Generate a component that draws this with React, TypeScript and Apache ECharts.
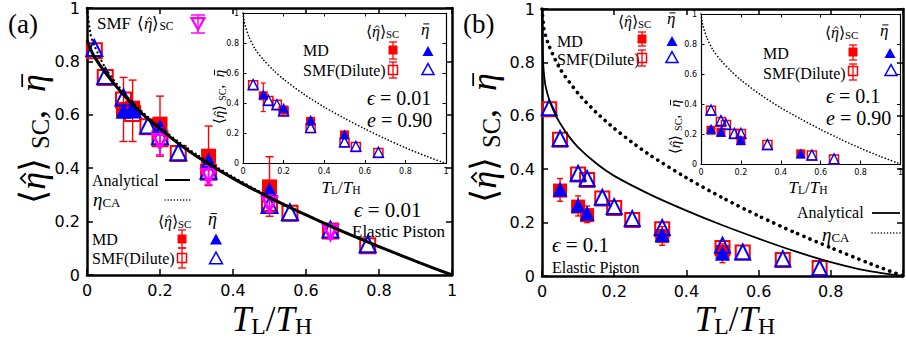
import React, { useEffect, useRef } from 'react';
import * as echarts from 'echarts';

// ---------- Panel (a) main: epsilon = 0.01 ----------
const aSmfX = [0.02, 0.05, 0.1, 0.125, 0.167, 0.2, 0.25, 0.333, 0.5, 0.556, 0.667, 0.769];
const aSmfSC = [0.84, 0.74, 0.655, 0.605, 0.555, 0.51, 0.455, 0.385, 0.268, 0.231, 0.165, 0.11];
const aSmfBar = [0.85, 0.745, 0.665, 0.62, 0.56, 0.52, 0.46, 0.39, 0.262, 0.235, 0.17, 0.115];
const aMdX = [0.1, 0.125, 0.2, 0.333, 0.5];
const aMdSC = [0.62, 0.625, 0.565, 0.445, 0.33];
const aMdBar = [0.615, 0.62, 0.555, 0.43, 0.318];
const aMdLo = [0.5, 0.5, 0.445, 0.335, 0.22];
const aMdHi = [0.74, 0.73, 0.67, 0.558, 0.443];
const aMagX = [0.2, 0.333, 0.5, 0.667];
const aMag = [0.5, 0.37, 0.265, 0.16];
const aMagLo = [0.45, 0.34, 0.235, 0.135];
const aMagHi = [0.55, 0.41, 0.3, 0.19];
const aCurveX = [0, 0.01, 0.02, 0.05, 0.1, 0.15, 0.2, 0.25, 0.3, 0.4, 0.5, 0.6, 0.7, 0.8, 0.9, 1.0];
const aAnalytic = [0.88, 0.845, 0.818, 0.758, 0.675, 0.605, 0.547, 0.493, 0.445, 0.362, 0.29, 0.225, 0.163, 0.106, 0.052, 0];
const aCA = [1.0, 0.9, 0.86, 0.776, 0.684, 0.613, 0.553, 0.5, 0.452, 0.368, 0.293, 0.225, 0.163, 0.106, 0.051, 0];

// ---------- Panel (a) inset: epsilon = 0.01, e = 0.90 ----------
const aiSmfX = [0.05, 0.125, 0.167, 0.2, 0.333, 0.5, 0.556, 0.667];
const aiSmfSC = [0.52, 0.415, 0.39, 0.345, 0.235, 0.14, 0.11, 0.07];
const aiSmfBar = [0.525, 0.42, 0.39, 0.35, 0.24, 0.145, 0.115, 0.075];
const aiMdX = [0.1, 0.2, 0.333, 0.5];
const aiMdSC = [0.45, 0.355, 0.28, 0.19];
const aiMdBar = [0.46, 0.37, 0.29, 0.195];
const aiMdLo = [0.345, 0.33, 0.26, 0.175];
const aiMdHi = [0.535, 0.38, 0.3, 0.21];

// ---------- Panel (b) main: epsilon = 0.1 ----------
const bSmfX = [0.02, 0.05, 0.1, 0.125, 0.167, 0.2, 0.25, 0.333, 0.5, 0.556, 0.667, 0.769];
const bSmfSC = [0.625, 0.51, 0.38, 0.36, 0.29, 0.255, 0.21, 0.175, 0.105, 0.088, 0.06, 0.03];
const bSmfBar = [0.63, 0.515, 0.385, 0.365, 0.295, 0.26, 0.215, 0.182, 0.115, 0.09, 0.065, 0.03];
const bMdX = [0.05, 0.1, 0.125, 0.333, 0.5];
const bMdSC = [0.32, 0.26, 0.228, 0.15, 0.09];
const bMdBar = [0.325, 0.265, 0.235, 0.155, 0.085];
const bMdLo = [0.28, 0.225, 0.2, 0.115, 0.05];
const bMdHi = [0.365, 0.3, 0.262, 0.185, 0.12];
const bCurveX = [0, 0.001, 0.003, 0.006, 0.01, 0.02, 0.035, 0.05, 0.075, 0.1, 0.15, 0.2, 0.3, 0.4, 0.5, 0.6, 0.7, 0.8, 0.9, 1.0];
const bAnalytic = [1.0, 0.88, 0.8, 0.75, 0.71, 0.66, 0.61, 0.572, 0.522, 0.482, 0.422, 0.375, 0.305, 0.245, 0.19, 0.14, 0.093, 0.052, 0.02, 0];
const bCAX = [0, 0.005, 0.01, 0.02, 0.05, 0.1, 0.15, 0.2, 0.25, 0.3, 0.4, 0.5, 0.6, 0.7, 0.8, 0.9, 1.0];
const bCA = [1.0, 0.93, 0.9, 0.86, 0.776, 0.684, 0.613, 0.553, 0.5, 0.452, 0.368, 0.293, 0.225, 0.163, 0.106, 0.051, 0];

// ---------- Panel (b) inset: epsilon = 0.1, e = 0.90 ----------
const biSmfX = [0.05, 0.1, 0.125, 0.167, 0.2, 0.333, 0.556, 0.667];
const biSmfSC = [0.355, 0.28, 0.26, 0.2, 0.2, 0.127, 0.056, 0.03];
const biSmfBar = [0.36, 0.29, 0.265, 0.205, 0.205, 0.13, 0.06, 0.035];
const biMdX = [0.05, 0.1, 0.2, 0.5];
const biMdSC = [0.225, 0.21, 0.155, 0.068];
const biMdBar = [0.235, 0.215, 0.16, 0.07];
const biMdLo = [0.205, 0.19, 0.135, 0.055];
const biMdHi = [0.245, 0.23, 0.175, 0.08];

// inset dotted reference curve (both insets)
const inCurveX = [0, 0.005, 0.01, 0.03, 0.06, 0.1, 0.15, 0.2, 0.3, 0.4, 0.5, 0.6, 0.7, 0.8, 0.9, 1.0];
const inCurve = [1.0, 0.95, 0.92, 0.84, 0.76, 0.69, 0.62, 0.56, 0.46, 0.375, 0.3, 0.23, 0.165, 0.105, 0.05, 0];

const RED = '#ff0000';
const BLUE = '#0000ff';
const MAG = '#ff00ff';
const SERIF = "'Liberation Serif', 'Times New Roman', serif";
const SANS = "'DejaVu Sans', 'Liberation Sans', sans-serif";

const zip = (xs: number[], ys: number[]) => xs.map((x, i) => [x, ys[i]]);
const zip3 = (xs: number[], a: number[], b: number[]) => xs.map((x, i) => [x, a[i], b[i]]);

let measureCtx: CanvasRenderingContext2D | null = null;
function measure(text: string, font: string) {
  if (!measureCtx) measureCtx = document.createElement('canvas').getContext('2d');
  if (!measureCtx) return text.length * 8;
  measureCtx.font = font;
  return measureCtx.measureText(text).width;
}

// Math-like label composed of pieces: [kind, text, accent?]; kind r=roman, i=italic, s=subscript
type Part = [string, string, string?];
function M(x: number, y: number, parts: Part[], size: number, align = 'left', rot = 0) {
  let off = 0;
  const kids: any[] = [];
  for (const [k, t, acc] of parts) {
    const fs = k === 's' ? size * 0.68 : size;
    const font = `${k === 'i' ? 'italic ' : ''}${fs}px ${SERIF}`;
    const w = measure(t, font);
    const dy = k === 's' ? size * 0.2 : 0;
    kids.push({
      type: 'text', x: off, y: dy, z: 50, silent: true,
      style: { text: t, font, fill: '#000', align: 'left', verticalAlign: 'middle', textAlign: 'left', textVerticalAlign: 'middle' },
    });
    if (acc) {
      const cx = off + w / 2 + size * 0.07;
      const lw = Math.max(1, size * 0.05);
      if (acc === 'hat') {
        kids.push({
          type: 'polyline', z: 50, silent: true,
          shape: { points: [[cx - size * 0.14, -size * 0.2], [cx, -size * 0.34], [cx + size * 0.14, -size * 0.2]] },
          style: { stroke: '#000', lineWidth: lw, fill: 'none' },
        });
      } else {
        kids.push({
          type: 'line', z: 50, silent: true,
          shape: { x1: cx - size * 0.18, y1: -size * 0.3, x2: cx + size * 0.18, y2: -size * 0.3 },
          style: { stroke: '#000', lineWidth: lw },
        });
      }
    }
    off += w;
  }
  const shift = align === 'center' ? -off / 2 : align === 'right' ? -off : 0;
  return {
    type: 'group', x, y, rotation: rot, silent: true,
    children: [{ type: 'group', x: shift, y: 0, children: kids }],
  };
}

function sq(cx: number, cy: number, s: number, filled: boolean, lw = 1.5) {
  return {
    type: 'rect', z: 50, silent: true,
    shape: { x: cx - s / 2, y: cy - s / 2, width: s, height: s },
    style: filled ? { fill: RED } : { fill: 'none', stroke: RED, lineWidth: lw },
  };
}
function tri(cx: number, cy: number, s: number, filled: boolean, color = BLUE, lw = 1.5, down = false) {
  const h = s * 0.9;
  const pts = down
    ? [[cx - s / 2, cy - h / 2], [cx + s / 2, cy - h / 2], [cx, cy + h / 2]]
    : [[cx, cy - h / 2], [cx + s / 2, cy + h / 2], [cx - s / 2, cy + h / 2]];
  return {
    type: 'polygon', z: 50, silent: true, shape: { points: pts },
    style: filled ? { fill: color } : { fill: 'none', stroke: color, lineWidth: lw },
  };
}
function ebar(cx: number, y1: number, y2: number, w: number, color = RED, lw = 1.3) {
  const st = { stroke: color, lineWidth: lw };
  return [
    { type: 'line', z: 50, silent: true, shape: { x1: cx, y1, x2: cx, y2 }, style: st },
    { type: 'line', z: 50, silent: true, shape: { x1: cx - w, y1, x2: cx + w, y2: y1 }, style: st },
    { type: 'line', z: 50, silent: true, shape: { x1: cx - w, y1: y2, x2: cx + w, y2 }, style: st },
  ];
}
function hline(x1: number, x2: number, y: number, lw: number, dash?: number[]) {
  return {
    type: 'line', z: 50, silent: true, shape: { x1, y1: y, x2, y2: y },
    style: { stroke: '#000', lineWidth: lw, lineDash: dash, lineCap: dash ? 'round' : 'butt' },
  };
}

const YLAB: Part[] = [['r', '⟨'], ['i', 'η', 'hat'], ['r', '⟩ '], ['s', 'SC'], ['r', ',  '], ['i', 'η', 'bar']];
const XLAB: Part[] = [['i', 'T'], ['s', 'L'], ['r', '/'], ['i', 'T'], ['s', 'H']];
const HEAD: Part[] = [['r', '⟨'], ['i', 'η', 'hat'], ['r', '⟩'], ['s', 'SC']];
const BAR: Part[] = [['i', 'η', 'bar']];
const ETACA: Part[] = [['i', 'η'], ['s', 'CA']];

function T(x: number, y: number, text: string, size: number, italic = false) {
  return {
    type: 'text', x, y, z: 50, silent: true,
    style: {
      text, font: `${italic ? 'italic ' : ''}${size}px ${SERIF}`, fill: '#000',
      align: 'left', verticalAlign: 'middle', textAlign: 'left', textVerticalAlign: 'middle',
    },
  };
}

function makeAxes(gi: number, main: boolean, hideOne: boolean) {
  const base = (pos: string, labels: boolean, isX: boolean) => ({
    type: 'value', gridIndex: gi, position: pos, min: 0, max: 1, interval: 0.2,
    axisLine: { show: true, onZero: false, lineStyle: { color: '#000', width: main ? 2.5 : 1.2 } },
    axisTick: { show: true, inside: true, length: main ? 6 : 3.5, lineStyle: { color: '#000', width: main ? 1.5 : 1 } },
    splitLine: { show: false },
    axisLabel: {
      show: labels, color: '#000', fontFamily: SANS, fontSize: main ? 16 : 8, margin: main ? 7 : 4,
      formatter: (v: number) => (hideOne && isX && v === 1 ? '' : String(+v.toFixed(1))),
    },
  });
  return {
    x: [base('bottom', true, true), base('top', false, true)],
    y: [base('left', true, false), base('right', false, false)],
  };
}

function scat(ax: number, data: number[][], symbol: string, size: number, filled: boolean, color: string, bw: number, z: number, rotate = 0) {
  return {
    type: 'scatter', xAxisIndex: ax, yAxisIndex: ax, data, symbol, symbolSize: size, symbolRotate: rotate,
    silent: true, z,
    itemStyle: filled
      ? { color, borderWidth: 0, opacity: 1 }
      : { color: 'rgba(255,255,255,0)', borderColor: color, borderWidth: bw, opacity: 1 },
  };
}

function errs(ax: number, data: number[][], color: string, cap: number, lw: number, z: number) {
  return {
    type: 'custom', xAxisIndex: ax, yAxisIndex: ax, data, silent: true, z,
    encode: { x: 0, y: [1, 2] },
    renderItem: (_p: any, api: any) => {
      const x = api.value(0);
      const a = api.coord([x, api.value(1)]);
      const b = api.coord([x, api.value(2)]);
      const st = { stroke: color, lineWidth: lw };
      return {
        type: 'group',
        children: [
          { type: 'line', shape: { x1: a[0], y1: a[1], x2: b[0], y2: b[1] }, style: st },
          { type: 'line', shape: { x1: a[0] - cap, y1: a[1], x2: a[0] + cap, y2: a[1] }, style: st },
          { type: 'line', shape: { x1: b[0] - cap, y1: b[1], x2: b[0] + cap, y2: b[1] }, style: st },
        ],
      };
    },
  };
}

function curve(ax: number, data: number[][], width: number, z: number, dash?: number[]) {
  return {
    type: 'line', xAxisIndex: ax, yAxisIndex: ax, data, showSymbol: false, symbol: 'none',
    smooth: 0.25, silent: true, z, clip: true,
    lineStyle: { color: '#000', width, type: dash ? dash : 'solid', cap: dash ? 'round' : 'butt' },
  };
}

export default function App() {
  const ref = useRef<HTMLDivElement>(null);
  useEffect(() => {
    if (!ref.current) return;
    const chart = echarts.init(ref.current, undefined, { renderer: 'svg' });
    const A = makeAxes(0, true, false);
    const AI = makeAxes(1, false, false);
    const B = makeAxes(2, true, true);
    const BI = makeAxes(3, false, false);
    const R = Math.PI / 2;
    const graphics: any[] = [
      // panel (a)
      T(8, 24, '(a)', 27),
      M(33, 139, YLAB, 36, 'center', R),
      M(272, 319, XLAB, 35, 'center'),
      T(97, 23, 'SMF', 17),
      M(137, 23, HEAD, 17),
      tri(198, 24, 13, false, MAG, 2.2, true),
      ...ebar(198, 15, 33, 7, MAG, 1.5),
      T(92, 180, 'Analytical', 16),
      hline(165, 190, 180, 2),
      M(93, 199, ETACA, 19),
      hline(165, 190, 200, 1.4, [0.1, 3]),
      M(158, 221, HEAD, 16),
      M(208, 219, BAR, 18),
      T(92, 239, 'MD', 16),
      ...ebar(182, 230, 248, 4),
      sq(182, 239, 9, true),
      tri(216, 239, 12, true),
      T(92, 258, 'SMF(Dilute)', 16),
      ...ebar(182, 248, 268, 4),
      sq(182, 258, 9, false),
      tri(216, 258, 13, false),
      M(354, 210, [['i', 'ϵ'], ['r', ' = 0.01']], 21),
      T(352, 231, 'Elastic Piston', 17),
      // inset (a)
      M(219, 97, YLAB, 15, 'center', R),
      M(341, 187, XLAB, 17, 'center'),
      M(366, 31, HEAD, 16),
      M(421, 29, BAR, 17),
      T(303, 50, 'MD', 16),
      ...ebar(393, 42, 59, 4),
      sq(393, 50, 9, true),
      tri(428, 51, 11, true),
      T(303, 70, 'SMF(Dilute)', 16),
      ...ebar(393, 62, 78, 4),
      sq(393, 70, 9, false),
      tri(428, 69, 12, false),
      M(367, 98, [['i', 'ϵ'], ['r', ' = 0.01']], 20),
      M(367, 120, [['i', 'e'], ['r', ' = 0.90']], 20),
      // panel (b)
      T(463, 24, '(b)', 27),
      M(484, 138, YLAB, 36, 'center', R),
      M(735, 319, XLAB, 35, 'center'),
      M(618, 21, HEAD, 16),
      M(667, 18, BAR, 17),
      T(557, 41, 'MD', 16),
      ...ebar(642, 32, 46, 4),
      sq(642, 39, 9, true),
      tri(672, 41, 11, true),
      T(557, 59, 'SMF(Dilute)', 16),
      ...ebar(642, 50, 66, 4),
      sq(642, 58, 9, false),
      tri(672, 57, 12, false),
      T(797, 212, 'Analytical', 16),
      hline(872, 900, 213, 1.8),
      M(822, 234, ETACA, 19),
      hline(872, 900, 233, 1.4, [0.1, 3]),
      M(552, 245, [['i', 'ϵ'], ['r', ' = 0.1']], 21),
      T(552, 267, 'Elastic Piston', 16),
      // inset (b)
      M(675, 127, YLAB, 15, 'center', R),
      M(808, 187, XLAB, 17, 'center'),
      M(825, 32, HEAD, 16),
      M(880, 30, BAR, 17),
      T(763, 53, 'MD', 16),
      ...ebar(853, 45, 60, 4),
      sq(853, 52, 9, true),
      tri(890, 53, 11, true),
      T(763, 73, 'SMF(Dilute)', 16),
      ...ebar(853, 64, 80, 4),
      sq(853, 71, 9, false),
      tri(891, 70, 12, false),
      M(826, 96, [['i', 'ϵ'], ['r', ' = 0.1']], 20),
      M(826, 118, [['i', 'e'], ['r', ' = 0.90']], 20),
    ];

    const series: any[] = [
      // ---- main (a)
      scat(0, zip(aSmfX, aSmfSC), 'rect', 15, false, RED, 2, 2),
      scat(0, zip(aMdX, aMdSC), 'rect', 15, true, RED, 0, 3),
      errs(0, zip3(aMdX, aMdLo, aMdHi), RED, 4, 1.4, 3),
      scat(0, zip(aSmfX, aSmfBar), 'triangle', 16, false, BLUE, 2, 4),
      scat(0, zip(aMdX, aMdBar), 'triangle', 16, true, BLUE, 0, 4),
      errs(0, zip3(aMagX, aMagLo, aMagHi), MAG, 4, 1.5, 5),
      scat(0, zip(aMagX, aMag), 'triangle', 14, false, MAG, 3, 5, 180),
      curve(0, zip(aCurveX, aCA), 2.2, 6, [0.1, 4.5]),
      curve(0, zip(aCurveX, aAnalytic), 3, 7),
      // ---- inset (a)
      curve(2, zip(inCurveX, inCurve), 1.6, 6, [0.1, 3.2]),
      scat(2, zip(aiSmfX, aiSmfSC), 'rect', 9, false, RED, 1.5, 2),
      scat(2, zip(aiMdX, aiMdSC), 'rect', 9, true, RED, 0, 3),
      errs(2, zip3(aiMdX, aiMdLo, aiMdHi), RED, 2.5, 1.2, 3),
      scat(2, zip(aiSmfX, aiSmfBar), 'triangle', 10, false, BLUE, 1.4, 4),
      scat(2, zip(aiMdX, aiMdBar), 'triangle', 10, true, BLUE, 0, 4),
      // ---- main (b)
      curve(4, zip(bCAX, bCA), 3.6, 6, [0.1, 6.5]),
      curve(4, zip(bCurveX, bAnalytic), 1.8, 6),
      scat(4, zip(bSmfX, bSmfSC), 'rect', 14, false, RED, 2, 2),
      scat(4, zip(bMdX, bMdSC), 'rect', 14, true, RED, 0, 3),
      errs(4, zip3(bMdX, bMdLo, bMdHi), RED, 3, 1.4, 3),
      scat(4, zip(bSmfX, bSmfBar), 'triangle', 15, false, BLUE, 2, 4),
      scat(4, zip(bMdX, bMdBar), 'triangle', 15, true, BLUE, 0, 4),
      // ---- inset (b)
      curve(6, zip(inCurveX, inCurve), 1.6, 6, [0.1, 3.2]),
      scat(6, zip(biSmfX, biSmfSC), 'rect', 9, false, RED, 1.5, 2),
      scat(6, zip(biMdX, biMdSC), 'rect', 9, true, RED, 0, 3),
      errs(6, zip3(biMdX, biMdLo, biMdHi), RED, 2.5, 1.2, 3),
      scat(6, zip(biSmfX, biSmfBar), 'triangle', 10, false, BLUE, 1.4, 4),
      scat(6, zip(biMdX, biMdBar), 'triangle', 10, true, BLUE, 0, 4),
    ];

    chart.setOption({
      animation: false,
      backgroundColor: '#ffffff',
      grid: [
        { left: 87, top: 8, width: 365, height: 267 },
        { left: 243, top: 13, width: 203, height: 150.5 },
        { left: 542, top: 9, width: 363, height: 267 },
        { left: 701, top: 14, width: 200.5, height: 150 },
      ],
      xAxis: [...A.x, ...AI.x, ...B.x, ...BI.x],
      yAxis: [...A.y, ...AI.y, ...B.y, ...BI.y],
      series,
      graphic: { elements: graphics },
    });
    return () => chart.dispose();
  }, []);
  return (
    <div
      ref={ref}
      style={{ position: 'fixed', left: 0, top: 0, width: 906, height: 338, background: '#fff' }}
    />
  );
}
